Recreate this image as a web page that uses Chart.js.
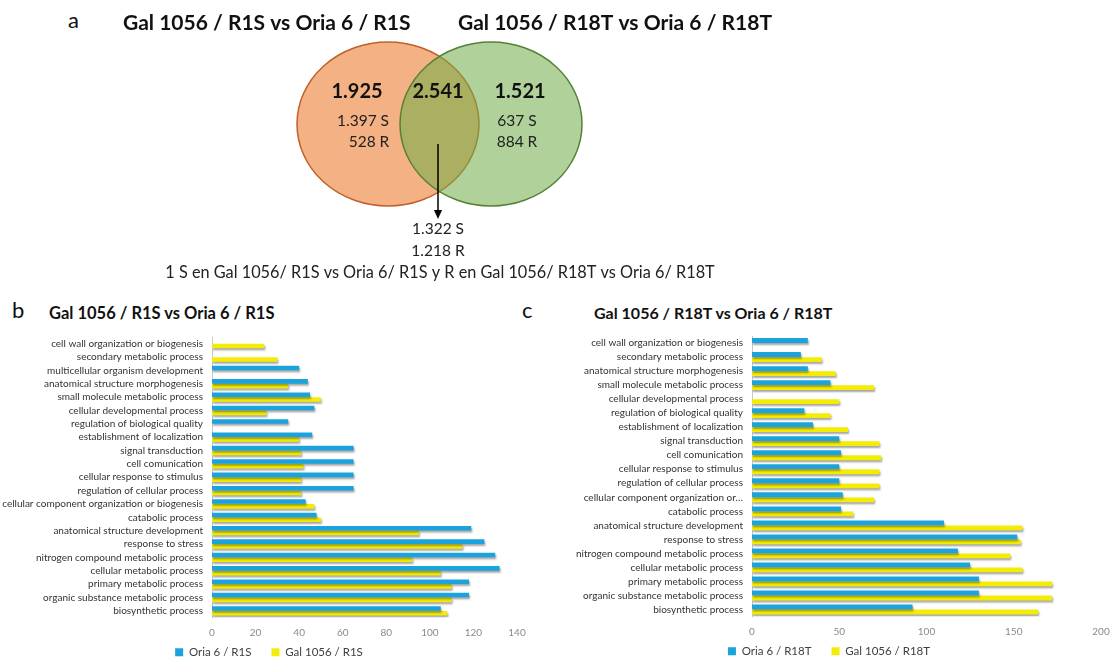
<!DOCTYPE html>
<html>
<head>
<meta charset="utf-8">
<script src="https://cdn.jsdelivr.net/npm/chart.js@4.4.1/dist/chart.umd.min.js"></script>
<style>
  html, body { margin: 0; padding: 0; background: #fff; overflow: hidden; }
  body { width: 1115px; height: 660px; position: relative; font-family: Lato, 'Open Sans', sans-serif; }
  canvas { position: absolute; }
  .letter { position: absolute; font-size: 22px; line-height: 1; color: #111; }
  .title { position: absolute; font-size: 16px; line-height: 1; font-weight: bold; color: #111; white-space: nowrap; }
</style>
</head>
<body>
<div class="letter" style="left:68px; top:9px;">a</div>
<div class="letter" style="left:12px; top:299px;">b</div>
<div class="letter" style="left:522px; top:299px;">c</div>
<div class="title" id="titleB" style="left:49px; top:305px; font-size:16.5px;"></div>
<div class="title" id="titleC" style="left:594px; top:305px;"></div>

<canvas id="venn" width="1115" height="300" style="left:0; top:0;"></canvas>
<canvas id="chartB" width="558" height="347" style="left:-4px; top:321px;"></canvas>
<canvas id="chartC" width="575" height="347" style="left:540px; top:320px;"></canvas>

<script>
// Venn diagram (a)
const vennSetNames = ['Gal 1056 / R1S vs Oria 6 / R1S', 'Gal 1056 / R18T vs Oria 6 / R18T'];
const vennTotals = [1925, 2541, 1521];   // only left, shared, only right
const vennS = [1397, 1322, 637];
const vennR = [528, 1218, 884];
const vennNote = '1 S en Gal 1056/ R1S vs Oria 6/ R1S y R en Gal 1056/ R18T vs Oria 6/ R18T';

// Bar chart (b)
const categoriesB = [
    'cell wall organization or biogenesis',
    'secondary metabolic process',
    'multicellular organism development',
    'anatomical structure morphogenesis',
    'small molecule metabolic process',
    'cellular developmental process',
    'regulation of biological quality',
    'establishment of localization',
    'signal transduction',
    'cell comunication',
    'cellular response to stimulus',
    'regulation of cellular process',
    'cellular component organization or biogenesis',
    'catabolic process',
    'anatomical structure development',
    'response to stress',
    'nitrogen compound metabolic process',
    'cellular metabolic process',
    'primary metabolic process',
    'organic substance metabolic process',
    'biosynthetic process'
];
const oriaR1S = [0, 0, 40, 44, 45, 47, 35, 46, 65, 65, 65, 65, 43, 48, 119, 125, 130, 132, 118, 118, 105];
const galR1S = [24, 30, 0, 35, 50, 25, 0, 40, 41, 42, 41, 41, 47, 50, 95, 115, 92, 105, 110, 110, 108];
const seriesNamesB = ['Oria 6 / R1S', 'Gal 1056 / R1S'];
const ticksB = { max: 140, step: 20 };

// Bar chart (c)
const categoriesC = [
    'cell wall organization or biogenesis',
    'secondary metabolic process',
    'anatomical structure morphogenesis',
    'small molecule metabolic process',
    'cellular developmental process',
    'regulation of biological quality',
    'establishment of localization',
    'signal transduction',
    'cell comunication',
    'cellular response to stimulus',
    'regulation of cellular process',
    'cellular component organization or\u2026',
    'catabolic process',
    'anatomical structure development',
    'response to stress',
    'nitrogen compound metabolic process',
    'cellular metabolic process',
    'primary metabolic process',
    'organic substance metabolic process',
    'biosynthetic process'
];
const oriaR18T = [32, 28, 32, 45, 0, 30, 35, 50, 51, 50, 50, 52, 51, 110, 152, 118, 125, 130, 130, 92];
const galR18T = [0, 40, 48, 70, 50, 45, 55, 73, 74, 73, 73, 70, 58, 155, 154, 148, 155, 172, 172, 164];
const seriesNamesC = ['Oria 6 / R18T', 'Gal 1056 / R18T'];
const ticksC = { max: 200, step: 50 };

const BLUE = '#1aa3dd';
const YELLOW = '#f3ec05';
const FONT = 'Lato';

document.getElementById('titleB').textContent = vennSetNames[0];
document.getElementById('titleC').textContent = vennSetNames[1];

function fmt(n) {
    return n.toLocaleString('de-DE');
}

// Draws the two overlapping sets and their counts
const vennPlugin = {
    id: 'venn',
    afterDraw(chart) {
        const { ctx, scales: { x, y } } = chart;
        const px = v => x.getPixelForValue(v);
        const py = v => y.getPixelForValue(v);
        const rx = px(91) - px(0);
        const ry = py(82) - py(0);

        ctx.save();
        // left set
        ctx.beginPath();
        ctx.ellipse(px(388), py(124), rx, ry, 0, 0, Math.PI * 2);
        ctx.fillStyle = '#f4b183';
        ctx.fill();
        ctx.lineWidth = 1.5;
        ctx.strokeStyle = '#c0602a';
        ctx.stroke();
        // right set
        ctx.beginPath();
        ctx.ellipse(px(491), py(124), rx, ry, 0, 0, Math.PI * 2);
        ctx.fillStyle = 'rgba(112, 173, 71, 0.55)';
        ctx.fill();
        ctx.strokeStyle = '#548235';
        ctx.stroke();

        ctx.fillStyle = '#111';
        ctx.textBaseline = 'middle';
        ctx.textAlign = 'left';
        ctx.font = `bold 21px ${FONT}`;
        ctx.fillText(vennSetNames[0], px(123), py(23));
        ctx.fillText(vennSetNames[1], px(458), py(23));

        ctx.textAlign = 'center';
        ctx.font = `bold 20px ${FONT}`;
        ctx.fillText(fmt(vennTotals[0]), px(357), py(92));
        ctx.fillText(fmt(vennTotals[1]), px(438), py(92));
        ctx.fillText(fmt(vennTotals[2]), px(520), py(92));

        ctx.fillStyle = '#222';
        ctx.font = `15.5px ${FONT}`;
        ctx.fillText(fmt(vennS[0]) + ' S', px(363), py(121));
        ctx.fillText(fmt(vennR[0]) + ' R', px(369), py(142));
        ctx.fillText(fmt(vennS[2]) + ' S', px(517), py(121));
        ctx.fillText(fmt(vennR[2]) + ' R', px(517), py(142));
        ctx.fillText(fmt(vennS[1]) + ' S', px(438), py(229));
        ctx.fillText(fmt(vennR[1]) + ' R', px(438), py(251));
        ctx.font = `16.3px ${FONT}`;
        ctx.fillText(vennNote, px(440), py(273));

        // arrow from the shared area
        ctx.strokeStyle = '#000';
        ctx.lineWidth = 1.5;
        ctx.beginPath();
        ctx.moveTo(px(438), py(144));
        ctx.lineTo(px(438), py(212));
        ctx.stroke();
        ctx.fillStyle = '#000';
        ctx.beginPath();
        ctx.moveTo(px(434), py(210));
        ctx.lineTo(px(442), py(210));
        ctx.lineTo(px(438), py(219));
        ctx.closePath();
        ctx.fill();
        ctx.restore();
    }
};

new Chart(document.getElementById('venn'), {
    type: 'scatter',
    data: { datasets: [] },
    options: {
        responsive: false,
        animation: false,
        layout: { padding: 0 },
        plugins: { legend: { display: false }, tooltip: { enabled: false } },
        scales: {
            x: { type: 'linear', min: 0, max: 1115, display: false },
            y: { type: 'linear', min: 0, max: 300, reverse: true, display: false }
        }
    },
    plugins: [vennPlugin]
});

// Soft drop shadow under the bars
const barShadow = {
    id: 'barShadow',
    beforeDatasetsDraw(chart) {
        const ctx = chart.ctx;
        ctx.save();
        ctx.shadowColor = 'rgba(0, 0, 0, 0.35)';
        ctx.shadowBlur = 2;
        ctx.shadowOffsetX = 1;
        ctx.shadowOffsetY = 2;
    },
    afterDatasetsDraw(chart) {
        chart.ctx.restore();
    }
};

// spacer: empty right-hand box, only used to keep the legend centred like the original
function spacerAxis(width) {
    return {
        type: 'category',
        position: 'right',
        display: true,
        ticks: { display: false },
        grid: { display: false, drawTicks: false },
        border: { display: false },
        afterFit(scale) { scale.width = width; }
    };
}

function makeBarChart(id, labels, first, second, names, xTicks, axisWidth, padding, spacer) {
    const scales = {
        x: {
            min: 0,
            max: xTicks.max,
            // mirror + negative padding keeps the labels below the axis without clipping
            ticks: { stepSize: xTicks.step, color: '#8a8a8a', mirror: true, padding: -21, font: { family: FONT, size: 10 } },
            grid: { display: false, drawTicks: false },
            border: { display: false },
            afterFit(scale) { scale.height = 9; }
        },
        y: {
            ticks: { autoSkip: false, color: '#333', padding: 9, font: { family: FONT, size: 10 } },
            grid: { display: true, drawOnChartArea: false, drawTicks: false },
            border: { display: true, color: '#c8c8c8', width: 1 },
            afterFit(scale) { scale.width = axisWidth; }
        }
    };
    if (spacer) {
        scales.pad = spacerAxis(spacer);
    }
    return new Chart(document.getElementById(id), {
        type: 'bar',
        data: {
            labels: labels,
            datasets: [
                { label: names[0], data: first, backgroundColor: BLUE, borderWidth: 0, categoryPercentage: 0.72, barPercentage: 0.95 },
                { label: names[1], data: second, backgroundColor: YELLOW, borderWidth: 0, categoryPercentage: 0.72, barPercentage: 0.95 }
            ]
        },
        options: {
            indexAxis: 'y',
            responsive: false,
            animation: false,
            layout: { padding: padding },
            plugins: {
                legend: {
                    position: 'bottom',
                    labels: {
                        boxWidth: 8,
                        boxHeight: 8,
                        padding: 20,
                        color: '#404040',
                        font: { family: FONT, size: 11.5 }
                    }
                },
                tooltip: { enabled: false }
            },
            scales: scales
        },
        plugins: [barShadow]
    });
}

makeBarChart('chartB', categoriesB, oriaR1S, galR1S, seriesNamesB, ticksB, 216,
    { top: 16, left: 0, right: 12, bottom: 0 }, 25);
makeBarChart('chartC', categoriesC, oriaR18T, galR18T, seriesNamesC, ticksC, 195,
    { top: 16, left: 17, right: 14, bottom: 0 }, 0);
</script>
</body>
</html>
